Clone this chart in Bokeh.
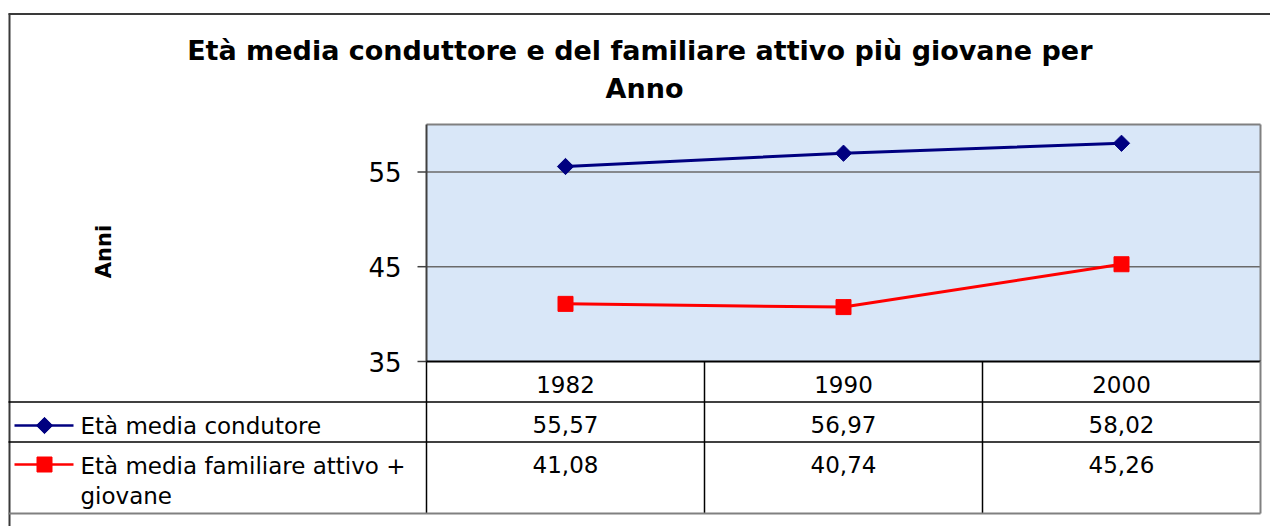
import numpy as np
from bokeh.plotting import figure
from bokeh.models import Range1d
from bokeh.embed import file_html
from bokeh.resources import INLINE
from bokeh.core.properties import value

# ---------------- data ----------------
years = ["1982", "1990", "2000"]
conduttore = [55.57, 56.97, 58.02]
familiare = [41.08, 40.74, 45.26]
series_names = ["Età media condutore", "Età media familiare attivo +\ngiovane"]
y_ticks = [35, 45, 55]
y_min, y_max = 35, 60
title_lines = ["Età media conduttore  e del familiare attivo più giovane per", "Anno"]
y_title = "Anni"

NAVY = "#000080"
RED = "#ff0000"
FONT = "DejaVu Sans"
BLUE_BG = "#d9e7f8"


def fmt(v):
    return f"{v:.2f}".replace(".", ",")


# ---------------- layout (page pixels; canvas sits at the page origin) ----------------
W, H = 1270, 526
PL, PR, PT, PB = 426, 1260, 124, 361  # plot area
ncat = len(years)
CAT_PX = (PR - PL) / ncat             # pixels per category
Y_PX = (PB - PT) / (y_max - y_min)    # pixels per year of age


def px(page_x):
    """page x -> category units"""
    return (page_x - PL) / CAT_PX


def py(page_y):
    """page y -> age units"""
    return y_max - (page_y - PT) / Y_PX


p = figure(width=W, height=H,
           x_range=Range1d(px(0), px(W)), y_range=Range1d(py(H), py(0)),
           output_backend="svg", toolbar_location=None,
           x_axis_location=None, y_axis_location=None,
           min_border=0, min_border_left=0, min_border_right=0,
           min_border_top=0, min_border_bottom=0)
p.title.visible = False
p.outline_line_color = None
p.xgrid.visible = False
p.ygrid.visible = False
p.background_fill_color = "white"

cat_edges = list(range(ncat + 1))
centers = [i + 0.5 for i in range(ncat)]

# outer chart-area border
p.segment(x0=[px(8)], y0=[py(13.5)], x1=[px(1270)], y1=[py(13.5)],
          line_color="#3a3a3a", line_width=2)
p.segment(x0=[px(9)], y0=[py(13)], x1=[px(9)], y1=[py(526)],
          line_color="#3a3a3a", line_width=2)

# titles
p.text(x=[px(644)] * 2, y=[py(50), py(88)], text=title_lines, text_align="center",
       text_baseline="middle", text_font=value(FONT), text_font_style="bold",
       text_font_size="27px", text_color="black")
p.text(x=[px(103)], y=[py(251)], text=[y_title], angle=np.pi / 2, text_align="center",
       text_baseline="middle", text_font=value(FONT), text_font_style="bold",
       text_font_size="21px", text_color="black")

# plot area
p.quad(left=[0], right=[ncat], bottom=[y_min], top=[y_max], fill_color=BLUE_BG,
       line_color=None)
grid_vals = [t for t in y_ticks if t > y_min]
p.segment(x0=[0] * len(grid_vals), y0=grid_vals, x1=[ncat] * len(grid_vals), y1=grid_vals,
          line_color="#6a6a6a", line_width=1.5)
p.segment(x0=[0, ncat], y0=[y_max, y_max], x1=[ncat, ncat], y1=[y_max, y_min],
          line_color="#808080", line_width=2)
p.segment(x0=[0], y0=[y_min], x1=[0], y1=[y_max], line_color="#404040", line_width=2)

# y ticks and labels
p.segment(x0=[px(PL - 9)] * len(y_ticks), y0=y_ticks, x1=[0] * len(y_ticks), y1=y_ticks,
          line_color="#404040", line_width=1.5)
p.text(x=[px(PL - 25)] * len(y_ticks), y=y_ticks, text=[str(t) for t in y_ticks],
       text_align="right", text_baseline="middle", text_font=value(FONT),
       text_font_size="26px", text_color="black")

# series
p.line(centers, conduttore, line_color=NAVY, line_width=3)
p.scatter(centers, conduttore, marker="square", angle=np.pi / 4, size=11.5,
          fill_color=NAVY, line_color=NAVY)
p.line(centers, familiare, line_color=RED, line_width=3)
p.scatter(centers, familiare, marker="square", size=15, fill_color=RED, line_color=RED)

# ---------------- data table ----------------
row_lines = [py(401.5), py(441.5)]
table_bottom = py(513)
p.segment(x0=[0], y0=[y_min], x1=[ncat], y1=[y_min], line_color="black", line_width=2)
p.segment(x0=[px(8)] * 2, y0=row_lines, x1=[ncat] * 2, y1=row_lines,
          line_color="black", line_width=1.5)
p.segment(x0=cat_edges[:-1], y0=[y_min] * ncat, x1=cat_edges[:-1], y1=[table_bottom] * ncat,
          line_color="black", line_width=1.5)
p.segment(x0=[ncat], y0=[y_min], x1=[ncat], y1=[table_bottom], line_color="#808080",
          line_width=2)
p.segment(x0=[px(8)], y0=[table_bottom], x1=[ncat], y1=[table_bottom], line_color="#808080",
          line_width=2)

# header, values
p.text(x=centers, y=[py(384)] * ncat, text=years, text_align="center",
       text_baseline="middle", text_font=value(FONT), text_font_size="23px",
       text_color="black")
p.text(x=centers, y=[py(424)] * ncat, text=[fmt(v) for v in conduttore], text_align="center",
       text_baseline="middle", text_font=value(FONT), text_font_size="23px",
       text_color="black")
p.text(x=centers, y=[py(464)] * ncat, text=[fmt(v) for v in familiare], text_align="center",
       text_baseline="middle", text_font=value(FONT), text_font_size="23px",
       text_color="black")

# legend keys
key_y = [py(425), py(464)]
p.segment(x0=[px(14)] * 2, y0=key_y, x1=[px(73)] * 2, y1=key_y,
          line_color=[NAVY, RED], line_width=2.5)
p.scatter(x=[px(44)], y=[key_y[0]], marker="square", angle=np.pi / 4, size=11.5,
          fill_color=NAVY, line_color=NAVY)
p.scatter(x=[px(44)], y=[key_y[1]], marker="square", size=15, fill_color=RED, line_color=RED)

# legend texts
for name, y0 in zip(series_names, [425, 465]):
    parts = name.split("\n")
    p.text(x=[px(80)] * len(parts), y=[py(y0 + 30 * k) for k in range(len(parts))], text=parts,
           text_align="left", text_baseline="middle", text_font=value(FONT),
           text_font_size="23px", text_color="black")

open("out.html", "w").write(file_html(p, INLINE))
